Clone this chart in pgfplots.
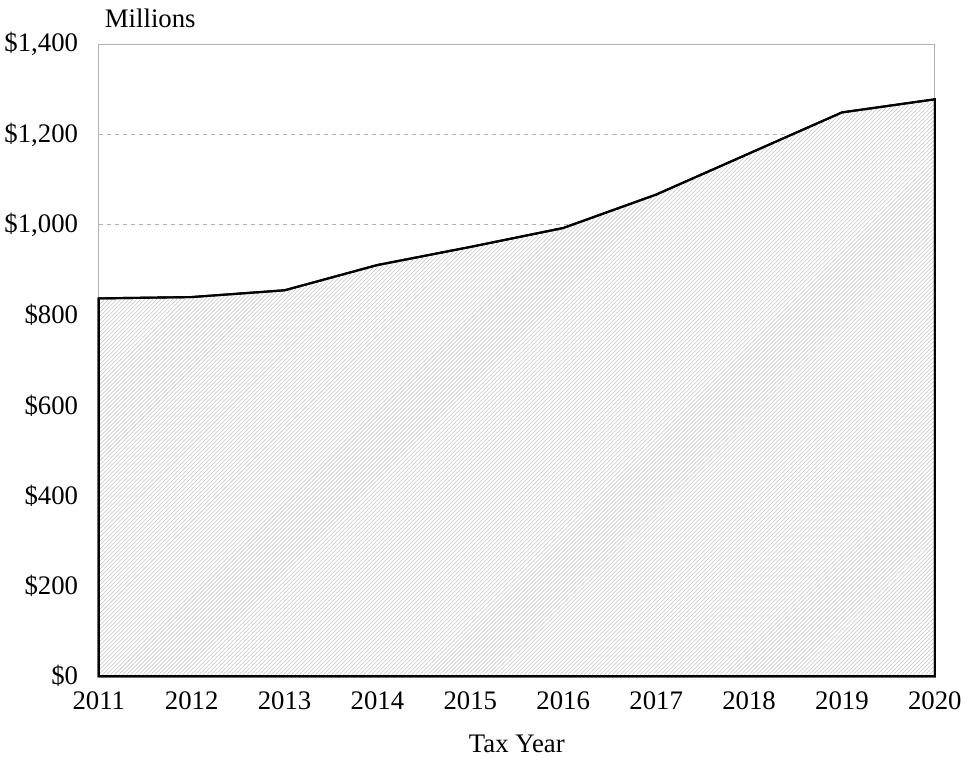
\documentclass[border=0pt]{standalone}
\usepackage{pgfplots}
\pgfplotsset{compat=1.18}
\usetikzlibrary{patterns}
\usepackage{fontspec}
\setmainfont{Liberation Serif}
\begin{document}
\begin{tikzpicture}
\begin{axis}[
  scale only axis,
  width=625pt, height=472.5pt,
  xmin=2011, xmax=2020, ymin=0, ymax=1400,
  xtick={2011,...,2020},
  ytick={0,200,...,1400},
  xticklabel style={/pgf/number format/1000 sep={}},
  yticklabel={\$\pgfmathprintnumber[1000 sep={,}]{\tick}},
  /pgf/number format/assume math mode=true,
  tick label style={font=\fontsize{20}{24}\selectfont},
  label style={font=\fontsize{20}{24}\selectfont},
  xlabel={Tax Year},
  xlabel style={yshift=-12pt},
  axis line style={gray!60, line width=0.6pt},
  tick style={draw=none},
  ymajorgrids,
  grid style={gray!60, dashed, line width=0.5pt},
  yticklabel style={xshift=-12pt},
  xticklabel style={yshift=-8pt},
  clip=false,
]
\addplot[draw=black, line width=1.6pt, fill=white, line join=miter,
  postaction={pattern=north east lines, pattern color=gray!45}]
  coordinates {(2011,0) (2011,837) (2012,840) (2013,855) (2014,911) (2015,951) (2016,993) (2017,1067) (2018,1158) (2019,1249) (2020,1278) (2020,0)} -- cycle;
\node[anchor=south west, font=\fontsize{20}{24}\selectfont, inner sep=0pt] at (rel axis cs:0.007,1.025) {Millions};
\path (rel axis cs:0,1.07) -- (rel axis cs:1,1.07);
\end{axis}
\end{tikzpicture}
\end{document}
